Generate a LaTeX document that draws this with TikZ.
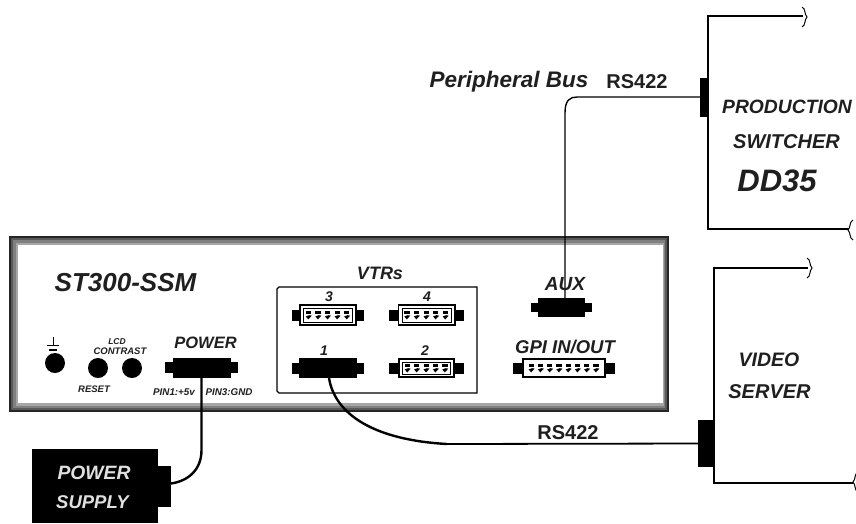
\documentclass[tikz,border=0pt]{standalone}
\usepackage{fontspec}
\setmainfont{Liberation Sans}
\usetikzlibrary{calc}
\definecolor{ink}{gray}{0.12}
\newcommand{\fz}[1]{\fontsize{#1}{#1}\selectfont}
\tikzset{
  x=1pt,y=-1pt,
  lab/.style={inner sep=0pt,text=ink,font=\bfseries\itshape},
  solidpart/.style={fill=black,draw=none,inner sep=0pt,outer sep=0pt},
  thinwire/.style={draw=black,line width=1.4pt},
  thickwire/.style={draw=black,line width=2.4pt},
  boxline/.style={draw=black,line width=1.3pt},
  tear/.style={draw=black,line width=1pt}
}
% #1 name, #2 cx, #3 cy, #4 ear width, #5 body width, #6 body height, #7 ear height
\newcommand{\dsolid}[7]{%
  \node[solidpart,minimum width=#4pt,minimum height=#7pt] at (#2,#3) {};
  \node[solidpart,minimum width=#5pt,minimum height=#6pt] (#1) at (#2,#3) {};
}
% white face; #8 pins per row, #9 width of the inner outline (0 for none)
\newcommand{\dopen}[9]{%
  \dsolid{#1}{#2}{#3}{#4}{#5}{#6}{#7}
  \fill[white] (#2-#5/2+1.6,#3-#6/2+1.6) rectangle (#2+#5/2-1.6,#3+#6/2-1.6);
  \ifdim#9pt>0pt
    \draw[black,line width=#9pt] (#2-#5/2+4.5,#3-#6/2+4) rectangle (#2+#5/2-4.5,#3+#6/2-4);
  \fi
  \foreach \k in {1,...,#8} {
    \pgfmathsetmacro{\px}{#2-#5/2+5+(\k-.5)*(#5-10)/#8}
    \fill[black] (\px-3,#3-4.4) rectangle (\px+2.2,#3-1.2);
    \fill[black] (\px-.5,#3+4.4) -- (\px+3,#3+.6) -- (\px+.4,#3+.2) -- (\px-3,#3+1.4) -- cycle;
  }
}
% torn edge: x, y, half height, bulge direction
\newcommand{\brk}[4]{%
  \draw[tear] (#1-1*#4,#2-#3) .. controls (#1+3*#4,#2-#3+2) and (#1+1*#4,#2-3) .. (#1+4*#4,#2) .. controls (#1+1*#4,#2+3) and (#1+3*#4,#2+#3-2) .. (#1-1*#4,#2+#3);
}
\begin{document}
\begin{tikzpicture}
\useasboundingbox (0,0) rectangle (856,523);
% panel
\node[fill=black!85,inner sep=0pt,minimum width=660pt,minimum height=176pt] (panel) at (339,324) {};
\fill[black!65] (11,238) rectangle (667,410);
\fill[black!50] (13,240) rectangle (665,408);
\fill[black!35] (15.5,242.5) rectangle (664,405.5);
\fill[white] (18,245) rectangle (663,403);
% VTR box
\draw[boxline] (279,287) -- (477,287) -- (477,393) -- (279,393) -- (277,391) -- (277,289) -- cycle;
% connectors
\dsolid{pwr}{201.5}{367.5}{73}{58}{20}{11}
\dopen{vtrc}{328}{315}{72}{58}{22}{11}{5}{.8}
\dopen{vtrd}{426.5}{315}{75}{58}{22}{11}{5}{.8}
\dsolid{vtra}{328}{368}{72}{58}{20}{11}
\dopen{vtrb}{426.5}{368}{75}{57}{20}{11}{5}{.8}
\dsolid{aux}{561.5}{307.5}{61}{47}{19}{9}
\dopen{gpi}{564}{368}{102}{84}{20}{11}{8}{0}
% knobs
\node[solidpart,circle,minimum size=20pt] (gnd) at (55,363) {};
\node[solidpart,circle,minimum size=20pt] (rst) at (98,368) {};
\node[solidpart,circle,minimum size=20pt] (lcd) at (132,368) {};
\coordinate (gt) at (53,337);
\draw[black,line width=1pt] (gt) -- ++(0,8) (gt)++(-6,8) -- ++(12,0);
\draw[black,line width=2pt] (gt)++(-4,13) -- ++(8,0);
% power supply
\node[solidpart,minimum width=126pt,minimum height=74pt] (psu) at (95,486) {};
\node[solidpart,minimum width=14pt,minimum height=41pt] (psuport) at (164,486.5) {};
% equipment
\coordinate (swtop) at (803,16);
\coordinate (swbot) at (849,229);
\coordinate (svtop) at (808,268);
\coordinate (svbot) at (853,483);
\draw[thinwire] (swtop) -- (708,16) -- (708,229) -- (swbot);
\draw[thinwire] (svtop) -- (714,268) -- (714,483) -- (svbot);
\brk{803}{17}{10}{1}
\brk{852}{230}{10}{-1}
\brk{808}{268}{10}{1}
\brk{857}{482}{10}{-1}
\node[solidpart,minimum width=8pt,minimum height=39pt] (swport) at (704,97) {};
\node[solidpart,minimum width=16pt,minimum height=47pt] (svport) at (706,443.5) {};
% wires
\coordinate (auxpin) at (565,300);
\draw[thinwire] (swport.west) -- (577,97) .. controls (570,97) and (565,100) .. (565,113) -- (auxpin);
\draw[thickwire] (pwr.south) -- (201.5,450) .. controls (201.5,470) and (188,481) .. ($(psuport.east)+(0,-3)$);
\draw[thickwire] (vtra.south) ++(1,0) .. controls (335,415) and (375,440) .. (447,444);
\draw[draw=black,line width=1.8pt] (447,444) -- (svport.west);
% labels
\node[lab,font=\bfseries\itshape\fz{26}] (t1) at (125.5,283) {ST300-SSM};
\node[lab,font=\bfseries\itshape\fz{16.5}] (t2) at (205.5,343) {POWER};
\node[lab,font=\bfseries\itshape\fz{8.5}] (t3) at (117,342) {LCD};
\node[lab,font=\bfseries\itshape\fz{9.5}] (t4) at (120,351) {CONTRAST};
\node[lab,font=\bfseries\itshape\fz{9.5}] (t5) at (94,389) {RESET};
\node[lab,font=\bfseries\itshape\fz{9.8}] (t6a) at (174,392) {PIN1:+5v};
\node[lab,font=\bfseries\itshape\fz{9.8}] (t6b) at (229,392) {PIN3:GND};
\node[lab,font=\bfseries\itshape\fz{18}] (t7) at (380,273) {VTRs};
\node[lab,font=\bfseries\itshape\fz{14}] (t8) at (329,297) {3};
\node[lab,font=\bfseries\itshape\fz{14}] (t9) at (427,297) {4};
\node[lab,font=\bfseries\itshape\fz{14}] (t10) at (324,351) {1};
\node[lab,font=\bfseries\itshape\fz{14}] (t11) at (425,351) {2};
\node[lab,font=\bfseries\itshape\fz{19}] (t12) at (565,284) {AUX};
\node[lab,font=\bfseries\itshape\fz{18.5}] (t13) at (565,347) {GPI IN/OUT};
\node[lab,font=\bfseries\fz{20}] (t14) at (568,433) {RS422};
\node[lab,font=\bfseries\itshape\fz{22.5}] (t15) at (509,82) {Peripheral Bus};
\node[lab,font=\bfseries\fz{20}] (t16) at (637,82) {RS422};
\node[lab,font=\bfseries\itshape\fz{19.3}] (t17) at (787,107) {PRODUCTION};
\node[lab,font=\bfseries\itshape\fz{20}] (t18) at (786.5,142) {SWITCHER};
\node[lab,font=\bfseries\itshape\fz{31}] (t19) at (777,181) {DD35};
\node[lab,font=\bfseries\itshape\fz{19.5}] (t20) at (769,360) {VIDEO};
\node[lab,font=\bfseries\itshape\fz{20}] (t21) at (769.5,392) {SERVER};
\node[lab,text=white!88!black,font=\bfseries\itshape\fz{19.3}] (t22) at (94,473) {POWER};
\node[lab,text=white!88!black,font=\bfseries\itshape\fz{18.5}] (t23) at (92.5,502) {SUPPLY};
\end{tikzpicture}
\end{document}
